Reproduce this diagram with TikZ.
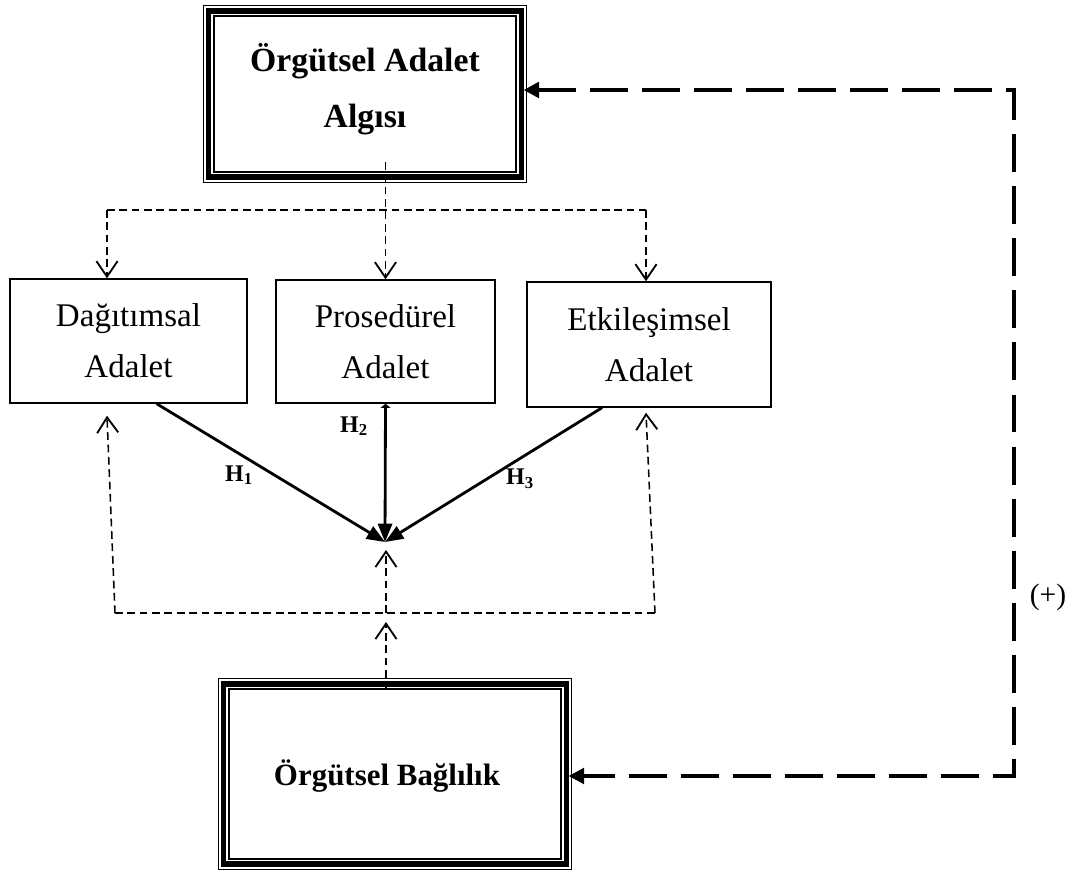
\documentclass[tikz,border=0pt]{standalone}
\usepackage{fontspec}
\setmainfont{Liberation Serif}
\usetikzlibrary{arrows.meta,calc}
\begin{document}
\begin{tikzpicture}[x=0.025cm,y=-0.025cm,
    mainbox/.style={preaction={draw,line width=8.5pt},preaction={draw,white,line width=6.4pt},
      draw,line width=3.6pt,inner sep=0pt,align=center,font=\fontsize{22}{40}\selectfont\bfseries},
    dimbox/.style={draw,line width=1pt,inner sep=0pt,align=center,font=\fontsize{23.5}{36}\selectfont},
    thindash/.style={line width=1.1pt,dash pattern=on 5.5pt off 3.3pt,
      -{Straight Barb[length=11pt,width=15pt,line width=1.3pt]}},
    hyp/.style={line width=2pt,-{Triangle[length=13pt,width=10pt]}},
    hlabel/.style={font=\fontsize{17}{17}\selectfont\bfseries},
    feedback/.style={line width=3.5pt,dash pattern=on 27pt off 10pt}]
    \useasboundingbox (0,0) rectangle (1087,872);
    \node[mainbox,minimum width=7.8cm,minimum height=4.15cm] (adalet) at (365,94) {};
    \node[font=\fontsize{24}{40}\selectfont\bfseries,align=center] (adaletlbl) at (365,89) {Örgütsel Adalet\\Algısı};
    \node[dimbox,minimum width=5.925cm,minimum height=3.1cm] (dag) at (128.5,341) {Dağıtımsal\\Adalet};
    \node[dimbox,minimum width=5.475cm,minimum height=3.075cm] (pros) at (385.5,341.5) {Prosedürel\\Adalet};
    \node[dimbox,minimum width=6.1cm,minimum height=3.125cm] (etk) at (649,344.5) {Etkileşimsel\\Adalet};
    \node[mainbox,minimum width=8.55cm,minimum height=4.5cm] (bag) at (395,774) {};
    \node[font=\fontsize{22}{40}\selectfont\bfseries] (baglbl) at (387,776) {Örgütsel Bağlılık};
    \coordinate (src) at (385.5,162);
    \coordinate (upl) at (107,210);
    \coordinate (upr) at (646,210);
    \coordinate (lowl) at (115,613);
    \coordinate (lowr) at (655,613);
    \coordinate (dagin) at ($(dag.south -| upl)+(0,12)$);
    \coordinate (etkin) at ($(etk.south -| upr)+(0,5)$);
    \coordinate (hub) at (385,542);
    \coordinate (meet) at (386,550);
    \coordinate (bagtop) at (386,690);
    \coordinate (busin) at (386,622);
    \coordinate (fbtop) at (1014,90);
    \coordinate (fbbot) at (1014,776);
    \draw[thindash,-] (upl) -- (upr);
    \draw[thindash] (src) -- (src |- pros.north);
    \draw[thindash] (upl) -- (upl |- dag.north);
    \draw[thindash] (upr) -- (upr |- etk.north);
    \draw[thindash,-] (lowl) -- (lowr);
    \draw[thindash] (lowl) -- (dagin);
    \draw[thindash] (lowr) -- (etkin);
    \draw[thindash] (bagtop) -- (busin);
    \draw[thindash] (lowl -| meet) -- (meet);
    \draw[hyp] ([xshift=20pt]dag.south) -- (hub);
    \draw[hyp,{Triangle[length=3pt,width=7pt]}-{Triangle[length=13pt,width=10pt]}] (pros.south) -- (hub);
    \draw[hyp] ([xshift=-33.4pt]etk.south) -- (hub);
    \node[hlabel] (h1) at (239,475) {H\textsubscript{1}};
    \node[hlabel] (h2) at (354,426) {H\textsubscript{2}};
    \node[hlabel] (h3) at (520,479) {H\textsubscript{3}};
    \draw[feedback,{Triangle[length=11pt,width=11pt]}-{Triangle[length=11pt,width=11pt]}]
      (fbtop -| adalet.east) -- (fbtop) -- (fbbot) -- (fbbot -| bag.east);
    \node[font=\fontsize{21}{21}\selectfont] (plus) at (1048,597) {(+)};
\end{tikzpicture}
\end{document}
